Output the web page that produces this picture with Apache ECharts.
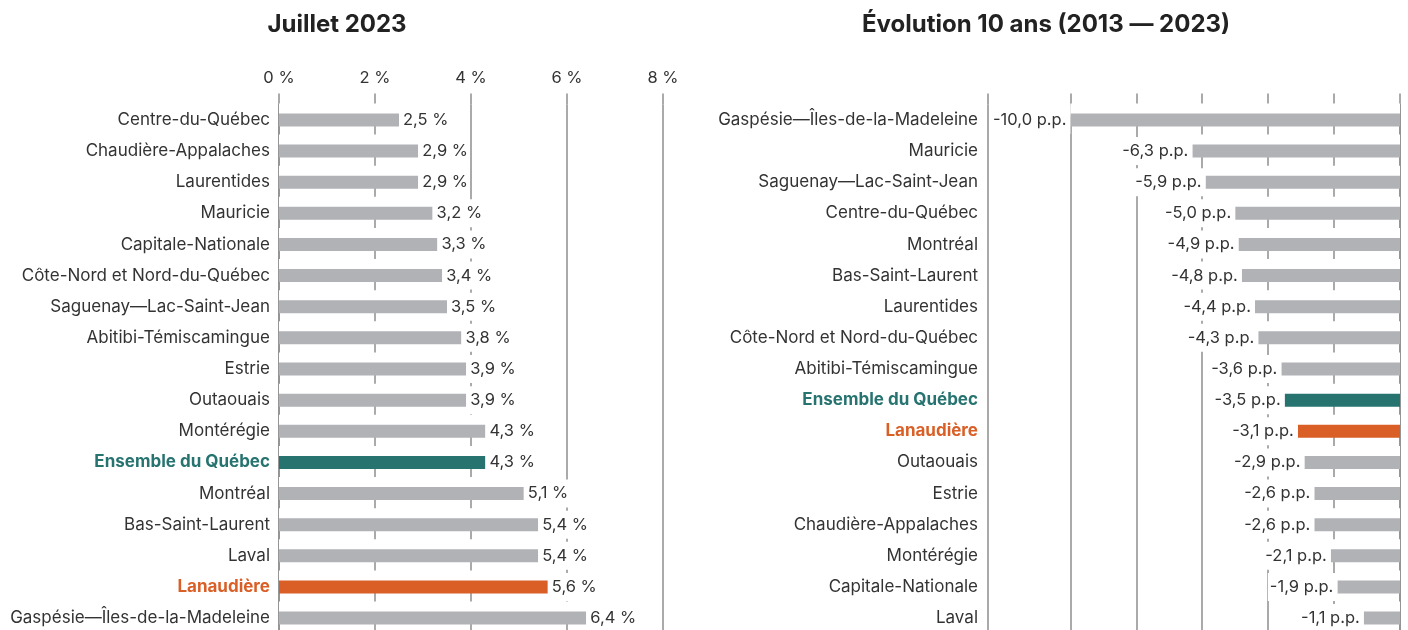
<!DOCTYPE html>
<html>
<head>
<meta charset="utf-8">
<script src="https://cdn.jsdelivr.net/npm/echarts@6/dist/echarts.min.js"></script>
<style>html,body{margin:0;padding:0;background:#fff}#c{width:1408px;height:630px}</style>
</head>
<body>
<div id="c"></div>
<script>
// ---------- data ----------
const JUL_TITLE = 'Juillet 2023';
const EVO_TITLE = 'Évolution 10 ans (2013 — 2023)';

const JUL_CATS = ['Centre-du-Québec','Chaudière-Appalaches','Laurentides','Mauricie','Capitale-Nationale',
  'Côte-Nord et Nord-du-Québec','Saguenay—Lac-Saint-Jean','Abitibi-Témiscamingue','Estrie','Outaouais',
  'Montérégie','Ensemble du Québec','Montréal','Bas-Saint-Laurent','Laval','Lanaudière','Gaspésie—Îles-de-la-Madeleine'];
const JUL_VALS = [2.5, 2.9, 2.9, 3.2, 3.3, 3.4, 3.5, 3.8, 3.9, 3.9, 4.3, 4.3, 5.1, 5.4, 5.4, 5.6, 6.4];

const EVO_CATS = ['Gaspésie—Îles-de-la-Madeleine','Mauricie','Saguenay—Lac-Saint-Jean','Centre-du-Québec','Montréal',
  'Bas-Saint-Laurent','Laurentides','Côte-Nord et Nord-du-Québec','Abitibi-Témiscamingue','Ensemble du Québec',
  'Lanaudière','Outaouais','Estrie','Chaudière-Appalaches','Montérégie','Capitale-Nationale','Laval'];
const EVO_VALS = [-10.0, -6.3, -5.9, -5.0, -4.9, -4.8, -4.4, -4.3, -3.6, -3.5, -3.1, -2.9, -2.6, -2.6, -2.1, -1.9, -1.1];

const JUL_TICKS = [0, 2, 4, 6, 8];
const EVO_TICKS = [-10, -8, -6, -4, -2, 0];
const JUL_UNIT = ' %';
const EVO_UNIT = ' p.p.';

// ---------- style ----------
const FONT = 'Inter, Roboto, sans-serif';
const TEXT = '#333333';
const LINE = '#8e8e8e';
const BAR_GRAY = '#b1b2b6';
const HL = {
  'Ensemble du Québec': { key: 'teal', color: '#267370' },
  'Lanaudière': { key: 'orange', color: '#d95f26' }
};

function fmt(v, unit) { return v.toFixed(1).replace('.', ',') + unit; }

const rich = {};
Object.keys(HL).forEach(k => {
  rich[HL[k].key] = { color: HL[k].color, fontWeight: 'bold', fontSize: 17, fontFamily: FONT };
});
function catFormatter(v) { return HL[v] ? '{' + HL[v].key + '|' + v + '}' : v; }

function yAxisFor(idx, cats, margin) {
  return {
    gridIndex: idx, type: 'category', inverse: true, data: cats,
    axisLine: { show: true, lineStyle: { color: LINE, width: 1.5 } },
    axisTick: { show: false },
    axisLabel: { interval: 0, margin: margin, color: TEXT, fontSize: 17, fontFamily: FONT, formatter: catFormatter, rich: rich },
    splitLine: { show: false }
  };
}

function barSeries(idx, cats, vals, unit, pos) {
  return {
    type: 'bar', xAxisIndex: idx, yAxisIndex: idx, barWidth: 13, silent: true,
    data: vals.map((v, i) => ({ value: v, itemStyle: { color: HL[cats[i]] ? HL[cats[i]].color : BAR_GRAY } })),
    itemStyle: { shadowColor: '#ffffff', shadowOffsetY: -10, shadowBlur: 0 },
    label: {
      show: true, position: pos, distance: 0,
      formatter: p => fmt(p.value, unit),
      color: TEXT, fontSize: 16.5, fontFamily: FONT, lineHeight: 17,
      backgroundColor: '#ffffff',
      padding: pos === 'right' ? [10, 2, 1, 4] : [10, 4, 1, 2]
    },
    emphasis: { disabled: true }
  };
}

const chart = echarts.init(document.getElementById('c'), null, { renderer: 'canvas' });
chart.setOption({
  animation: false,
  backgroundColor: '#ffffff',
  title: [
    { text: JUL_TITLE, left: 332, top: 8, textAlign: 'center',
      textStyle: { fontSize: 24, fontWeight: 'bold', color: '#222', fontFamily: FONT } },
    { text: EVO_TITLE, left: 1041, top: 8, textAlign: 'center',
      textStyle: { fontSize: 24, fontWeight: 'bold', color: '#222', fontFamily: FONT } }
  ],
  grid: [
    { left: 279, width: 384, top: 104.4, height: 529.2, containLabel: false, outerBoundsMode: 'none' },
    { left: 988, width: 412, top: 104.4, height: 529.2, containLabel: false, outerBoundsMode: 'none' }
  ],
  xAxis: [
    { gridIndex: 0, type: 'value', position: 'top',
      min: JUL_TICKS[0], max: JUL_TICKS[JUL_TICKS.length - 1], interval: JUL_TICKS[1] - JUL_TICKS[0],
      axisLine: { show: false },
      axisTick: { show: true, inside: false, length: 11, lineStyle: { color: LINE, width: 1.5 } },
      axisLabel: { margin: 18, color: TEXT, fontSize: 16.5, fontFamily: FONT, formatter: v => v + JUL_UNIT },
      splitLine: { show: true, lineStyle: { color: LINE, width: 1.5 } } },
    { gridIndex: 1, type: 'value', position: 'top',
      min: -12.5, max: 0,
      axisLine: { show: false },
      axisTick: { show: true, inside: false, length: 11, customValues: [-12.5].concat(EVO_TICKS),
        lineStyle: { color: LINE, width: 1.5 } },
      axisLabel: { show: false },
      splitLine: { show: true, lineStyle: { color: LINE, width: 1.5 } } }
  ],
  yAxis: [ yAxisFor(0, JUL_CATS, 9), yAxisFor(1, EVO_CATS, 10) ],
  series: [
    barSeries(0, JUL_CATS, JUL_VALS, JUL_UNIT, 'right'),
    barSeries(1, EVO_CATS, EVO_VALS, EVO_UNIT, 'left')
  ]
});
</script>
</body>
</html>
